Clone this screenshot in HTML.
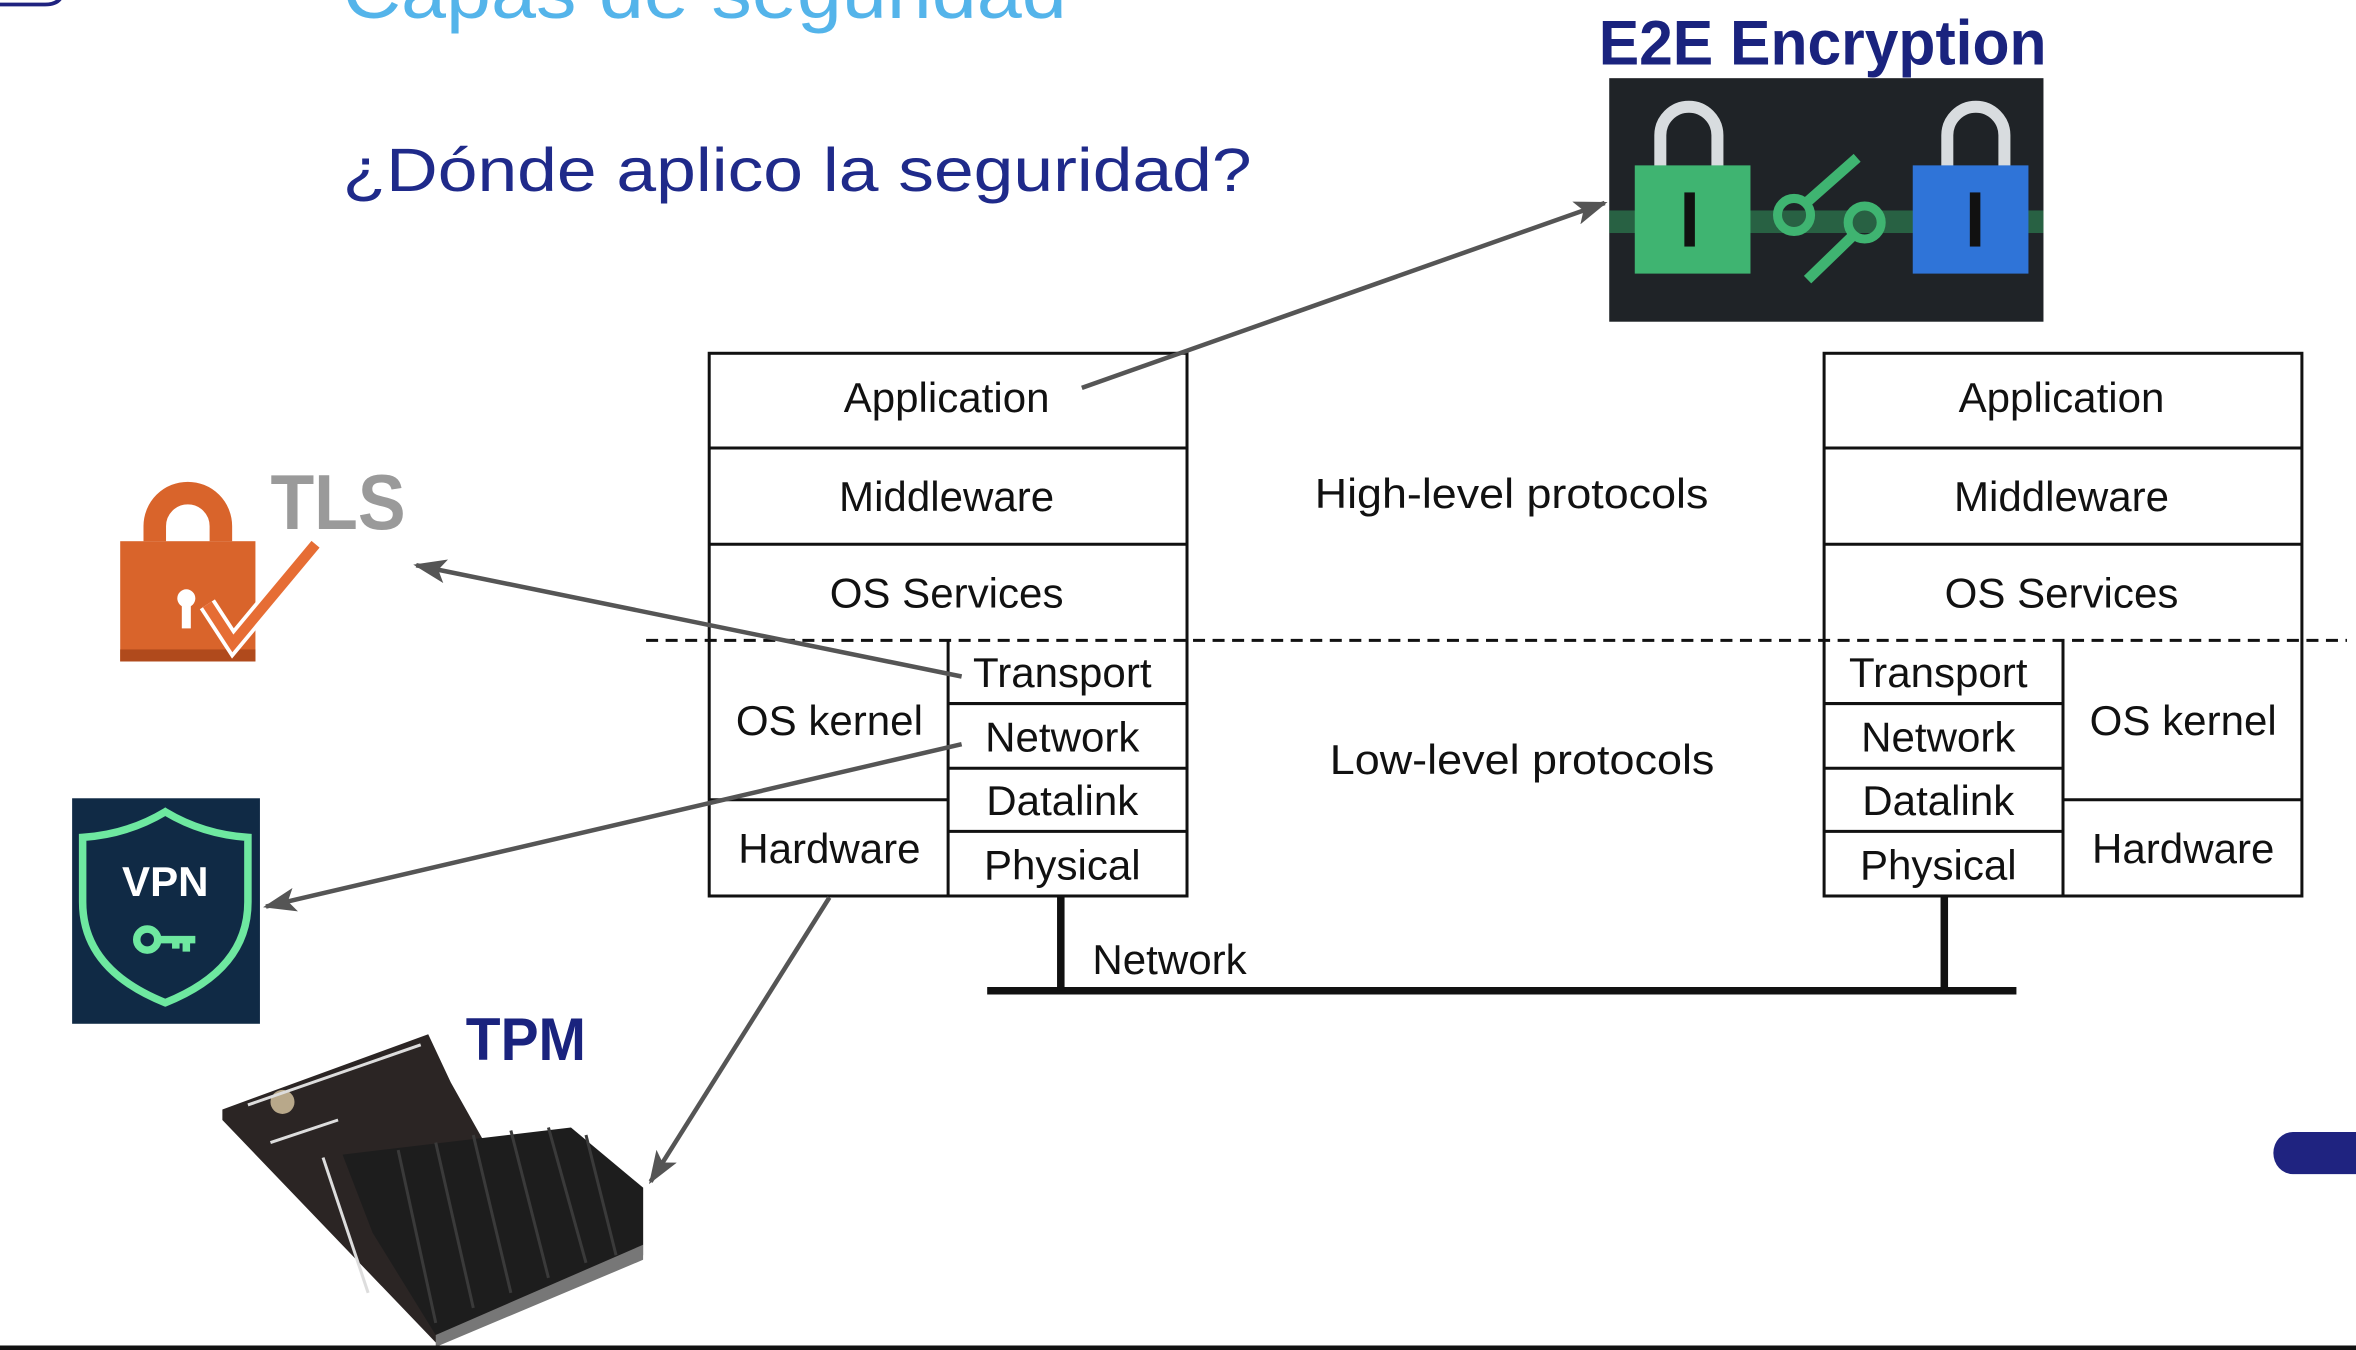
<!DOCTYPE html>
<html><head><meta charset="utf-8"><style>
html,body{margin:0;padding:0;background:#fff;width:2356px;height:1350px;overflow:hidden}
svg{display:block}
text{font-family:"Liberation Sans",sans-serif}
</style></head><body>
<svg width="2356" height="1350" viewBox="0 0 1568 898" preserveAspectRatio="none" xmlns="http://www.w3.org/2000/svg">
<defs>
<marker id="ah" markerWidth="22" markerHeight="16" refX="20" refY="8" orient="auto" markerUnits="userSpaceOnUse" viewBox="0 0 22 16">
<path d="M0,0 L22,8 L0,16 L5,8 z" fill="#555"/></marker>
</defs>
<rect x="0" y="0" width="1568" height="898" fill="#fff"/>
<path d="M0,3 L30,3 Q42,3 42,-8" fill="none" stroke="#1f2380" stroke-width="2.5"/>
<text x="228" y="12" font-size="50" fill="#54b4ea" textLength="482" lengthAdjust="spacingAndGlyphs">Capas de seguridad</text>
<text x="228" y="127" font-size="41" fill="#1f2a8a" textLength="605" lengthAdjust="spacingAndGlyphs">¿Dónde aplico la seguridad?</text>
<text x="1064" y="43" font-size="42" font-weight="bold" fill="#1a237e" textLength="298" lengthAdjust="spacingAndGlyphs">E2E Encryption</text>
<!-- E2E image -->
<rect x="1071" y="52" width="289" height="162" fill="#1f2327"/>
<rect x="1071" y="140" width="289" height="15" fill="#2e8b57" opacity="0.6"/>
<path d="M1105,112 v-22 a19,19 0 0 1 38,0 v22" fill="none" stroke="#d8dcdf" stroke-width="8"/>
<rect x="1088" y="110" width="77" height="72" fill="#3fb471"/>
<rect x="1121" y="128" width="7" height="36" fill="#111"/>
<path d="M1296,112 v-22 a19,19 0 0 1 38,0 v22" fill="none" stroke="#d8dcdf" stroke-width="8"/>
<rect x="1273" y="110" width="77" height="72" fill="#2f74d8"/>
<rect x="1311" y="128" width="7" height="36" fill="#111"/>
<circle cx="1194" cy="143" r="11" fill="none" stroke="#3fb471" stroke-width="6"/>
<path d="M1202,135 L1236,105" stroke="#3fb471" stroke-width="7"/>
<circle cx="1241" cy="148" r="11" fill="none" stroke="#3fb471" stroke-width="6"/>
<path d="M1234,156 L1203,186" stroke="#3fb471" stroke-width="7"/>
<!-- stacks -->
<g fill="none" stroke="#111" stroke-width="2">
<rect x="472" y="235" width="318" height="361"/>
<line x1="472" y1="298" x2="790" y2="298"/>
<line x1="472" y1="362" x2="790" y2="362"/>
<line x1="631" y1="426" x2="631" y2="596"/>
<line x1="631" y1="468" x2="790" y2="468"/>
<line x1="631" y1="511" x2="790" y2="511"/>
<line x1="631" y1="553" x2="790" y2="553"/>
<line x1="472" y1="532" x2="631" y2="532"/>
<rect x="1214" y="235" width="318" height="361"/>
<line x1="1214" y1="298" x2="1532" y2="298"/>
<line x1="1214" y1="362" x2="1532" y2="362"/>
<line x1="1373" y1="426" x2="1373" y2="596"/>
<line x1="1214" y1="468" x2="1373" y2="468"/>
<line x1="1214" y1="511" x2="1373" y2="511"/>
<line x1="1214" y1="553" x2="1373" y2="553"/>
<line x1="1373" y1="532" x2="1532" y2="532"/>
</g>
<line x1="430" y1="426" x2="1562" y2="426" stroke="#111" stroke-width="2" stroke-dasharray="8,5"/>
<g font-size="28" fill="#111" text-anchor="middle">
<text x="630" y="274">Application</text>
<text x="630" y="340">Middleware</text>
<text x="630" y="404">OS Services</text>
<text x="707" y="457">Transport</text>
<text x="707" y="500">Network</text>
<text x="707" y="542">Datalink</text>
<text x="707" y="585">Physical</text>
<text x="552" y="489">OS kernel</text>
<text x="552" y="574">Hardware</text>
<text x="1372" y="274">Application</text>
<text x="1372" y="340">Middleware</text>
<text x="1372" y="404">OS Services</text>
<text x="1290" y="457">Transport</text>
<text x="1290" y="500">Network</text>
<text x="1290" y="542">Datalink</text>
<text x="1290" y="585">Physical</text>
<text x="1453" y="489">OS kernel</text>
<text x="1453" y="574">Hardware</text>
<text x="1006" y="338" textLength="262" lengthAdjust="spacingAndGlyphs">High-level protocols</text>
<text x="1013" y="515" textLength="256" lengthAdjust="spacingAndGlyphs">Low-level protocols</text>
</g>
<text x="727" y="648" font-size="28" fill="#111">Network</text>
<g stroke="#111" stroke-width="5">
<line x1="657" y1="659" x2="1342" y2="659"/>
<line x1="706" y1="596" x2="706" y2="659"/>
<line x1="1294" y1="596" x2="1294" y2="659"/>
</g>
<!-- arrows -->
<g stroke="#555" stroke-width="3" fill="none" marker-end="url(#ah)">
<line x1="720" y1="258" x2="1068" y2="135"/>
<line x1="640" y1="450" x2="277" y2="376"/>
<line x1="640" y1="495" x2="177" y2="603"/>
<line x1="552" y1="597" x2="433" y2="786"/>
</g>
<!-- TLS -->
<path d="M103,360 v-10 a22,22 0 0 1 44,0 v10" fill="none" stroke="#d9642b" stroke-width="15"/>
<rect x="80" y="360" width="90" height="80" fill="#d9642b"/>
<rect x="80" y="432" width="90" height="8" fill="#b04a1c"/>
<circle cx="124" cy="398" r="6" fill="#fff"/><rect x="121" y="398" width="6" height="20" fill="#fff"/>
<path d="M138,402 L155,428 L210,362" fill="none" stroke="#fff" stroke-width="12"/>
<path d="M138,402 L155,428 L210,362" fill="none" stroke="#e66d34" stroke-width="7"/>
<text x="180" y="352" font-size="52" font-weight="bold" fill="#9a9a9a" textLength="90" lengthAdjust="spacingAndGlyphs">TLS</text>
<!-- VPN -->
<rect x="48" y="531" width="125" height="150" fill="#102a45"/>
<path d="M110,540 Q135,555 165,557 L165,600 Q165,645 110,667 Q55,645 55,600 L55,557 Q85,555 110,540 z" fill="none" stroke="#6ee8a0" stroke-width="5"/>
<text x="110" y="596" font-size="28" font-weight="bold" fill="#fff" text-anchor="middle">VPN</text>
<circle cx="98" cy="625" r="7" fill="none" stroke="#6ee8a0" stroke-width="5"/>
<path d="M104,625 H130 M124,625 v8 M117,625 v6" stroke="#6ee8a0" stroke-width="5"/>
<!-- TPM -->
<text x="310" y="705" font-size="40" font-weight="bold" fill="#1a237e" textLength="80" lengthAdjust="spacingAndGlyphs">TPM</text>
<polygon points="148,738 285,688 300,720 345,800 428,790 428,835 290,893 148,745" fill="#2b2524"/>
<polygon points="228,768 380,750 428,790 428,828 290,888 248,820" fill="#1d1d1d"/>
<g stroke="#3a3a3a" stroke-width="2">
<line x1="265" y1="765" x2="290" y2="880"/><line x1="290" y1="760" x2="315" y2="870"/>
<line x1="315" y1="755" x2="340" y2="860"/><line x1="340" y1="752" x2="365" y2="850"/>
<line x1="365" y1="750" x2="390" y2="840"/><line x1="390" y1="755" x2="410" y2="835"/>
</g>
<polygon points="290,888 428,828 428,838 290,896" fill="#777"/>
<circle cx="188" cy="733" r="8" fill="#b8a88a"/>
<g stroke="#ddd" stroke-width="2">
<line x1="165" y1="735" x2="280" y2="695"/>
<line x1="180" y1="760" x2="225" y2="745"/>
<line x1="215" y1="770" x2="245" y2="860"/>
</g>
<!-- right pill -->
<path d="M1568,753 H1526 a13,14 0 0 0 0,28 H1568 z" fill="#1f2380"/>
<rect x="0" y="895" width="1568" height="3" fill="#111"/>
</svg>
</body></html>
